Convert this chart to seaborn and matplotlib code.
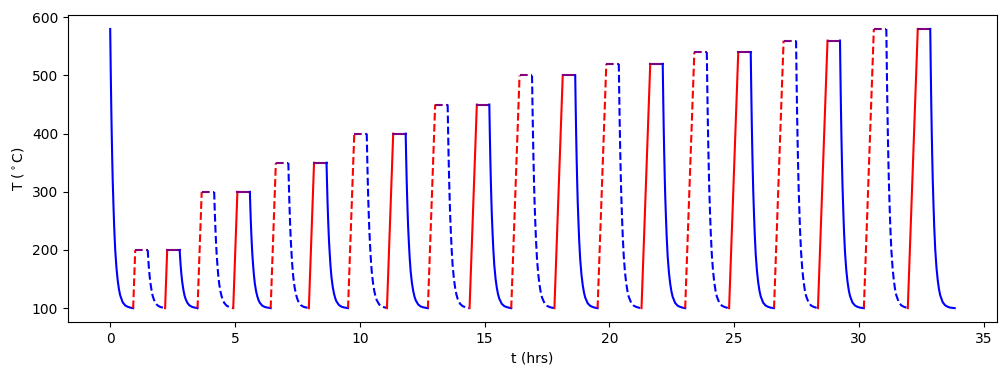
import numpy as np
import pandas as pd
import seaborn as sns
import matplotlib
matplotlib.use('Agg')
import matplotlib.pyplot as plt

# heat treatment schedule
peak_temps = [200, 200, 300, 300, 350, 350, 400, 400, 450, 450,
              500, 500, 520, 520, 540, 540, 560, 560, 580, 580]
heat_start = [0.92, 2.20, 3.50, 4.93, 6.43, 7.96, 9.53, 11.09, 12.73, 14.40,
              16.07, 17.80, 19.53, 21.29, 23.04, 24.80, 26.60, 28.36, 30.20, 31.96]
end_time = 33.84
start_temp = 580
base_temp = 100
heat_rate = 1200   # deg C per hour
hold_time = 0.5    # hrs

# cooling curve shape (fraction of excess over base temp vs hrs after cooling starts)
cool_dt = [0, 0.02, 0.04, 0.06, 0.08, 0.10, 0.13, 0.16, 0.20, 0.25,
           0.30, 0.35, 0.40, 0.50, 0.60, 0.70, 0.80]
cool_frac = [1.0, 0.86, 0.735, 0.63, 0.54, 0.46, 0.37, 0.29, 0.21, 0.145,
             0.10, 0.068, 0.046, 0.021, 0.010, 0.005, 0.002]


def cooling(t0, t1, peak):
    dt = np.array(cool_dt)
    fr = np.array(cool_frac)
    keep = dt < (t1 - t0)
    t = np.append(t0 + dt[keep], t1)
    T = np.append(base_temp + (peak - base_temp) * fr[keep], base_temp)
    return t, T


fig, ax = plt.subplots(figsize=(10.07, 3.75))

#initial cool down
t, T = cooling(0, heat_start[0], start_temp)
sns.lineplot(x=t, y=T, color='blue', ax=ax)

nexts = heat_start[1:] + [end_time]
for i, (ts, peak, tn) in enumerate(zip(heat_start, peak_temps, nexts)):
    ls = '--' if i % 2 == 0 else '-'
    t_peak = ts + (peak - base_temp) / heat_rate
    t_hold = t_peak + hold_time
    sns.lineplot(x=[ts, t_peak], y=[base_temp, peak], color='red', linestyle=ls, ax=ax)
    sns.lineplot(x=[t_peak, t_hold], y=[peak, peak], color='purple', linestyle=ls, ax=ax)
    t, T = cooling(t_hold, tn, peak)
    sns.lineplot(x=t, y=T, color='blue', linestyle=ls, ax=ax)

ax.set_xlabel('t (hrs)')
ax.set_ylabel('T ($^\\circ$C)')
fig.subplots_adjust(left=0.0675, right=0.99, top=0.96, bottom=0.141)
fig.savefig('out.png', dpi=100)
